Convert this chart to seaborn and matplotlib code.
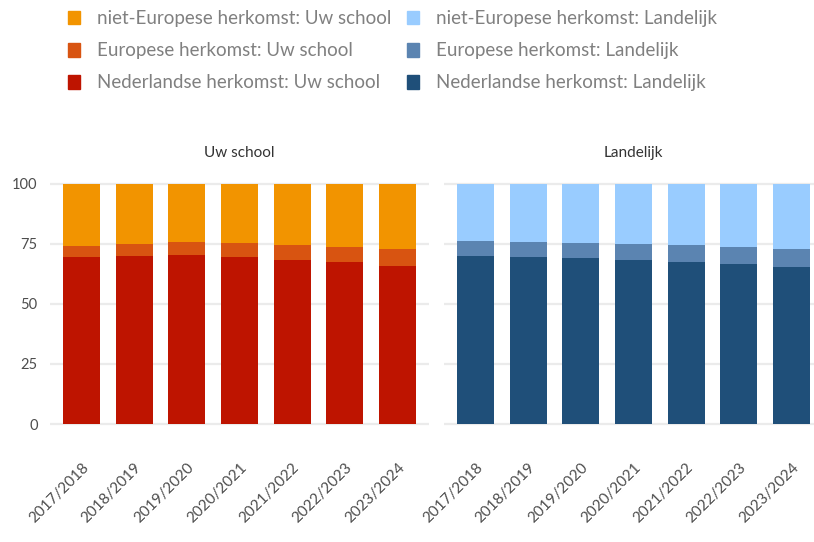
import pandas as pd
import numpy as np
import seaborn as sns
import matplotlib.pyplot as plt
from matplotlib.patches import Patch

years = ['2017/2018', '2018/2019', '2019/2020', '2020/2021', '2021/2022', '2022/2023', '2023/2024']

# Uw school
school_ned = [69.6, 70.0, 70.4, 69.6, 68.3, 67.5, 65.8]
school_eur = [4.6, 5.0, 5.4, 5.8, 6.3, 6.2, 7.1]
school_niet = [25.4, 25.0, 24.2, 24.6, 25.4, 25.9, 27.1]

# Landelijk
land_ned = [70.0, 69.6, 69.2, 68.3, 67.5, 66.7, 65.4]
land_eur = [6.2, 6.2, 6.2, 6.7, 7.1, 7.1, 7.5]
land_niet = [23.8, 23.9, 24.3, 24.7, 25.4, 26.2, 27.1]

panels = ['Uw school', 'Landelijk']
school_colors = ['#F29400', '#D85411', '#BE1400']   # niet-Eur, Eur, Ned
land_colors = ['#99CCFF', '#5B84B1', '#1F4F79']
labels = ['niet-Europese herkomst', 'Europese herkomst', 'Nederlandse herkomst']

sns.set_theme(style="white")
plt.rcParams['font.family'] = ['Lato', 'DejaVu Sans']

fig = plt.figure(figsize=(8.14, 5.42), dpi=100)
ax1 = fig.add_axes([50 / 814, 0.2044, 379 / 814, 0.4703])
ax2 = fig.add_axes([444 / 814, 0.2044, 379 / 814, 0.4703])

data = {
    'Uw school': (school_ned, school_eur, school_niet, school_colors),
    'Landelijk': (land_ned, land_eur, land_niet, land_colors),
}

for ax, panel in zip([ax1, ax2], panels):
    ned, eur, niet, cols = data[panel]
    df = pd.DataFrame({'jaar': years, 'ned': ned, 'eur': eur, 'niet': niet})
    df['c_ned'] = df['ned']
    df['c_eur'] = df['ned'] + df['eur']
    df['c_niet'] = df['ned'] + df['eur'] + df['niet']
    for col, color in zip(['c_niet', 'c_eur', 'c_ned'], cols):
        sns.barplot(data=df, x='jaar', y=col, color=color, width=0.7, ax=ax,
                    saturation=1, linewidth=0, zorder=3)
    ax.set_xlim(-0.6, 6.6)
    ax.set_ylim(-3, 103)
    ax.set_yticks([0, 25, 50, 75, 100])
    ax.yaxis.grid(True, color='#EBEBEB', linewidth=1.6, zorder=0)
    ax.xaxis.grid(False)
    for s in ax.spines.values():
        s.set_visible(False)
    ax.set_xlabel('')
    ax.set_ylabel('')
    ax.set_title(panel, fontsize=11, color='#333333', pad=14)
    ax.tick_params(axis='x', length=0, pad=21, labelsize=11, labelcolor='#4D4D4D')
    ax.tick_params(axis='y', length=0, pad=9, labelsize=10.5, labelcolor='#4D4D4D')
    for lab in ax.get_xticklabels():
        lab.set_rotation(45)
        lab.set_ha('right')
        lab.set_rotation_mode('anchor')

ax2.set_yticklabels([])

leg_kw = dict(loc='upper left', frameon=False, fontsize=13.5, handlelength=0.64,
              handleheight=0.75, handletextpad=0.9, labelspacing=0.81,
              borderpad=0, borderaxespad=0, labelcolor='#808080')
h1 = [Patch(color=c, label=l + ': Uw school') for c, l in zip(school_colors, labels)]
h2 = [Patch(color=c, label=l + ': Landelijk') for c, l in zip(land_colors, labels)]
fig.legend(handles=h1, bbox_to_anchor=(68 / 814, 1 - 10 / 542), **leg_kw)
fig.legend(handles=h2, bbox_to_anchor=(407 / 814, 1 - 10 / 542), **leg_kw)

plt.savefig('out.png', dpi=100)
